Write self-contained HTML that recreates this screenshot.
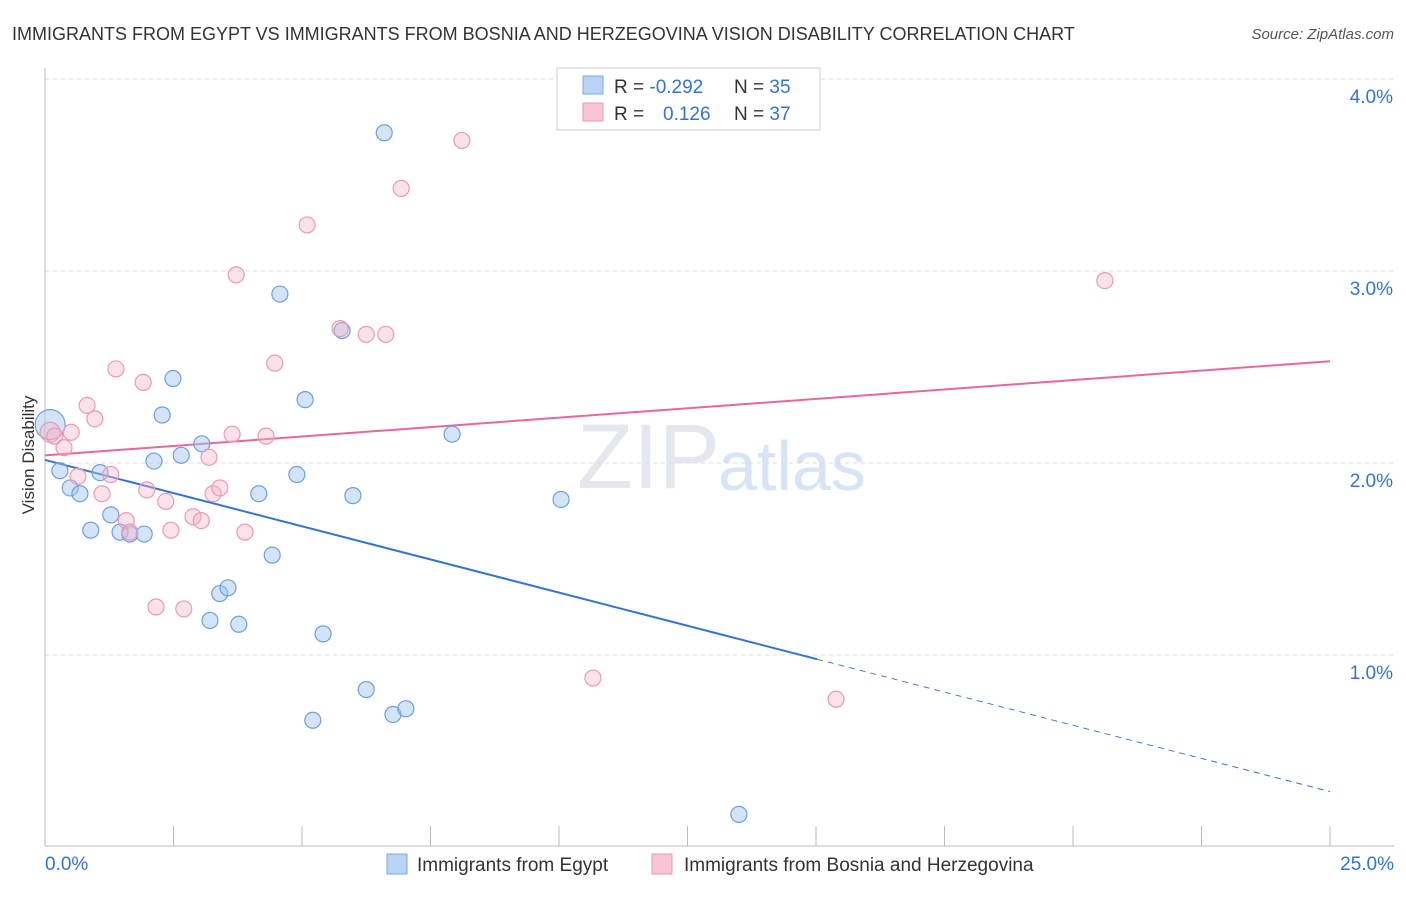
<!DOCTYPE html>
<html><head><meta charset="utf-8"><style>
body{margin:0;background:#fff;font-family:"Liberation Sans",sans-serif;}
svg text{font-family:"Liberation Sans",sans-serif;}
</style></head><body>
<svg id="chart" width="1406" height="892" viewBox="0 0 1406 892">
<text x="12" y="40" font-size="18" fill="#333">IMMIGRANTS FROM EGYPT VS IMMIGRANTS FROM BOSNIA AND HERZEGOVINA VISION DISABILITY CORRELATION CHART</text>
<text x="1394" y="39" font-size="15" fill="#555" font-style="italic" text-anchor="end">Source: ZipAtlas.com</text>
<text x="720" y="488" font-size="92" fill="#e4e8ee" text-anchor="end" font-family="Liberation Serif">ZIP</text>
<text x="718" y="490" font-size="70" fill="#d6e4f5">atlas</text>
<g id="grid"></g>
<g id="axes"></g>
<text transform="translate(34,455) rotate(-90)" font-size="17" fill="#333" text-anchor="middle">Vision Disability</text>
<g id="lines"></g>
<g id="points"></g>
<g>
<rect x="557" y="68" width="263" height="62" fill="#fff" stroke="#ccc"/>
<rect x="583" y="76" width="20" height="18" fill="#b9d3f5" stroke="#7aa8e0"/>
<rect x="583" y="103" width="20" height="18" fill="#f9c4d3" stroke="#e89ab3"/>
<text x="614" y="93" font-size="19" fill="#333">R = <tspan fill="#3373d6">-0.292</tspan><tspan x="734">N = </tspan><tspan fill="#3373d6">35</tspan></text>
<text x="614" y="120" font-size="19" fill="#333">R = <tspan x="663" fill="#3373d6">0.126</tspan><tspan x="734">N = </tspan><tspan fill="#3373d6">37</tspan></text>
</g>
<g>
<rect x="387" y="854" width="20" height="20" fill="#b9d3f5" stroke="#7aa8e0"/>
<text x="417" y="871" font-size="19" fill="#333">Immigrants from Egypt</text>
<rect x="652" y="854" width="20" height="20" fill="#f9c4d3" stroke="#e89ab3"/>
<text x="684" y="871" font-size="19" fill="#333">Immigrants from Bosnia and Herzegovina</text>
</g>
</svg>
<script>
const egyptX=[0.10,0.29,0.49,0.68,1.07,0.89,1.28,1.46,1.65,1.93,2.12,2.28,2.49,2.65,3.05,3.21,3.40,3.56,3.77,4.16,4.42,4.57,4.90,5.06,5.41,5.78,5.99,6.25,6.60,6.77,7.02,7.92,10.04,13.50,5.21];
const egyptY=[2.20,1.96,1.87,1.84,1.95,1.65,1.73,1.64,1.63,1.63,2.01,2.25,2.44,2.04,2.10,1.18,1.32,1.35,1.16,1.84,1.52,2.88,1.94,2.33,1.11,2.69,1.83,0.82,3.72,0.69,0.72,2.15,1.81,0.17,0.66];
const bosniaX=[0.10,0.19,0.37,0.51,0.64,0.82,0.97,1.11,1.28,1.38,1.58,1.65,1.91,1.98,2.16,2.35,2.45,2.70,2.88,3.04,3.19,3.27,3.40,3.64,3.72,3.89,4.30,4.47,5.10,5.74,6.25,6.63,6.93,8.11,10.66,15.39,20.62];
const bosniaY=[2.16,2.14,2.08,2.16,1.93,2.30,2.23,1.84,1.94,2.49,1.70,1.64,2.42,1.86,1.25,1.80,1.65,1.24,1.72,1.70,2.03,1.84,1.87,2.15,2.98,1.64,2.14,2.52,3.24,2.70,2.67,2.67,3.43,3.68,0.88,0.77,2.95];
const egyptTrend=[2.016,-0.0691];
const bosniaTrend=[2.04,0.0196];
const yTicks=[1,2,3,4];
const yTickLabels=["1.0%","2.0%","3.0%","4.0%"];
const xTickLabels=["0.0%","25.0%"];
const NS="http://www.w3.org/2000/svg";
const X=v=>45+v*51.4, Y=v=>847-v*192;
function mk(p,t,a){const e=document.createElementNS(NS,t);for(const k in a)e.setAttribute(k,a[k]);p.appendChild(e);return e;}
const grid=document.getElementById('grid'),axes=document.getElementById('axes'),lines=document.getElementById('lines'),pts=document.getElementById('points');
let g=mk(grid,'line',{x1:45,x2:1394,y1:79,y2:79,stroke:'#ddd','stroke-dasharray':'4,4'});


yTicks.forEach((t,i)=>{
 const l=mk(grid,'line',{x1:45,x2:1394,y1:Y(t),y2:Y(t),stroke:'#ddd','stroke-dasharray':'4,4'});
 
 
 const tx=mk(axes,'text',{x:1393,y:Y(t)+24,'font-size':19,fill:'#3373d6','text-anchor':'end'});
 tx.textContent=yTickLabels[i];
 
 
});
let a=mk(axes,'line',{x1:45,x2:45,y1:68,y2:846,stroke:'#bbb'});


a=mk(axes,'line',{x1:45,x2:1394,y1:846,y2:846,stroke:'#bbb'});


for(let i=0;i<=10;i++){
 const t=mk(axes,'line',{x1:X(i*2.5),x2:X(i*2.5),y1:826,y2:846,stroke:'#bbb'});
 
 
}
let xl=mk(axes,'text',{x:45,y:870,'font-size':19,fill:'#3373d6'});xl.textContent=xTickLabels[0];


xl=mk(axes,'text',{x:1394,y:870,'font-size':19,fill:'#3373d6','text-anchor':'end'});xl.textContent=xTickLabels[1];


const f=(tr,x)=>tr[0]+tr[1]*x;
let ln=mk(lines,'line',{x1:X(0),y1:Y(f(egyptTrend,0)),x2:X(15.02),y2:Y(f(egyptTrend,15.02)),stroke:'#3373d6','stroke-width':2});


ln=mk(lines,'line',{x1:X(15.02),y1:Y(f(egyptTrend,15.02)),x2:X(25),y2:Y(f(egyptTrend,25)),stroke:'#3373d6','stroke-width':1,'stroke-dasharray':'6,5'});


ln=mk(lines,'line',{x1:X(0),y1:Y(f(bosniaTrend,0)),x2:X(25),y2:Y(f(bosniaTrend,25)),stroke:'#e8689a','stroke-width':2});


egyptX.forEach((x,i)=>{
 const c=mk(pts,'circle',{cx:X(x),cy:Y(egyptY[i]),r:i===0?15:8,fill:'rgba(160,196,240,0.45)',stroke:'#6e9fdd','stroke-width':1.2});
 
 
});
bosniaX.forEach((x,i)=>{
 const c=mk(pts,'circle',{cx:X(x),cy:Y(bosniaY[i]),r:i===0?10:8,fill:'rgba(245,180,200,0.4)',stroke:'#e89ab3','stroke-width':1.2});
 
 
});
</script>
</body></html>
